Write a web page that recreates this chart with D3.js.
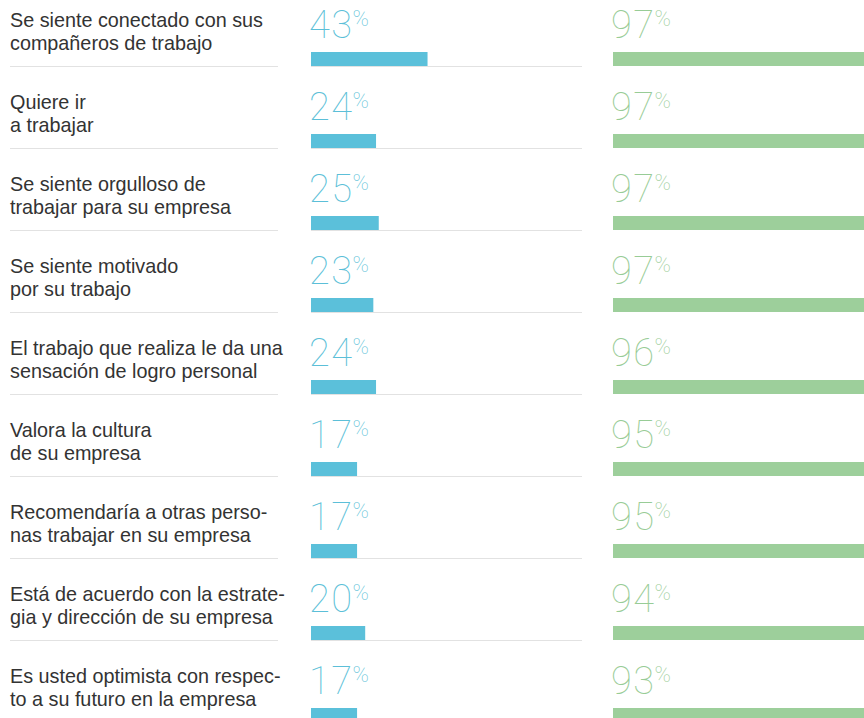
<!DOCTYPE html>
<html>
<head>
<meta charset="utf-8">
<script src="https://cdn.jsdelivr.net/npm/d3@7"></script>
<style>
  body { margin: 0; background: #fff; overflow: hidden; }
  .label { font-family: "Liberation Sans", Arial, Helvetica, sans-serif; font-size: 19.8px; fill: #333; }
  .num { font-family: Roboto, "Open Sans", sans-serif; font-weight: 100; }
</style>
</head>
<body>
<div id="chart"></div>
<script>
var labelLines = [
  ["Se siente conectado con sus", "compañeros de trabajo"],
  ["Quiere ir", "a trabajar"],
  ["Se siente orgulloso de", "trabajar para su empresa"],
  ["Se siente motivado", "por su trabajo"],
  ["El trabajo que realiza le da una", "sensación de logro personal"],
  ["Valora la cultura", "de su empresa"],
  ["Recomendaría a otras perso-", "nas trabajar en su empresa"],
  ["Está de acuerdo con la estrate-", "gia y dirección de su empresa"],
  ["Es usted optimista con respec-", "to a su futuro en la empresa"]
];
var blueValues = [43, 24, 25, 23, 24, 17, 17, 20, 17];
var greenValues = [97, 97, 97, 97, 96, 95, 95, 94, 93];

var width = 864, height = 718;
var barH = 14;
var blueX0 = 311, greenX0 = 613;

var svg = d3.select("#chart").append("svg")
  .attr("width", width)
  .attr("height", height);

// rows: bar top of each row
var y = d3.scaleBand()
  .domain(d3.range(labelLines.length))
  .range([52, 52 + 82 * labelLines.length])
  .paddingInner(0);

var x = d3.scaleLinear().domain([0, 100]).range([0, 271]);

var row = svg.selectAll("g.row")
  .data(labelLines)
  .enter().append("g")
    .attr("class", "row")
    .attr("transform", function(d, i) { return "translate(0," + y(i) + ")"; });

// label, two lines
row.append("text")
  .attr("class", "label")
  .selectAll("tspan")
  .data(function(d) { return d; })
  .enter().append("tspan")
    .attr("x", 10)
    .attr("y", function(d, j) { return j === 0 ? -25 : -2; })
    .text(function(d) { return d; });

// separator under label
row.append("line")
  .attr("x1", 10).attr("x2", 278)
  .attr("y1", barH + 0.5).attr("y2", barH + 0.5)
  .attr("stroke", "#e2e2e2").attr("stroke-width", 1.2);

// track under blue bar
row.append("line")
  .attr("x1", blueX0).attr("x2", blueX0 + x(100))
  .attr("y1", barH + 0.5).attr("y2", barH + 0.5)
  .attr("stroke", "#e2e2e2").attr("stroke-width", 1.2);

function addSeries(values, x0, barColor, textColor) {
  row.append("rect")
    .attr("x", x0)
    .attr("y", 0)
    .attr("height", barH)
    .attr("width", function(d, i) { return x(values[i]); })
    .attr("fill", barColor);

  var t = row.append("text")
    .attr("class", "num")
    .attr("x", x0 - 2)
    .attr("y", -14)
    .attr("fill", textColor);
  t.append("tspan")
    .attr("font-size", 38)
    .attr("letter-spacing", 1.5)
    .text(function(d, i) { return values[i]; });
  t.append("tspan")
    .attr("font-size", 22)
    .attr("dy", -12)
    .attr("dx", -1)
    .text("%");
}

addSeries(blueValues, blueX0, "#5bc0da", "#5cbfd8");
addSeries(greenValues, greenX0, "#9dcf9b", "#98cc96");
</script>
</body>
</html>
